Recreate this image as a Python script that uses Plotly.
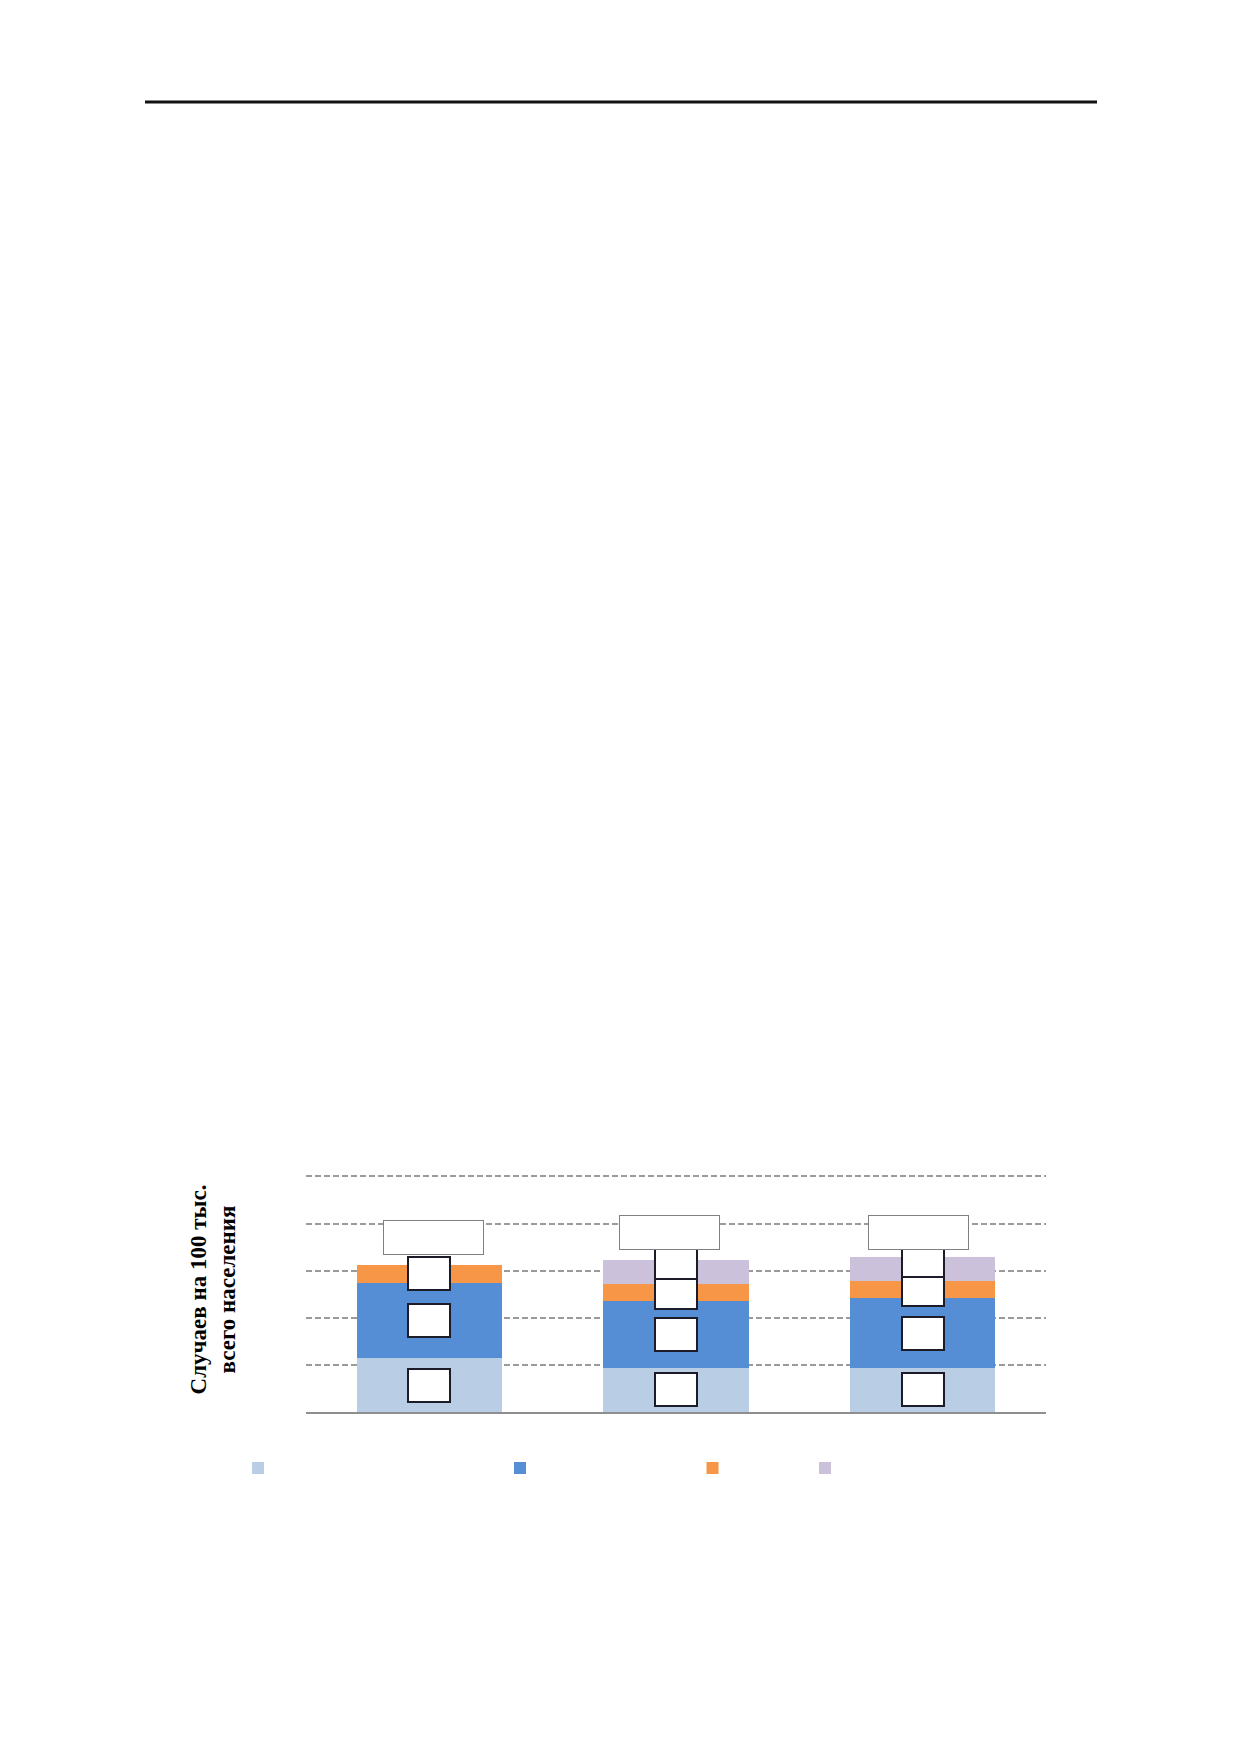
import plotly.graph_objects as go

# ---- data (value labels are blank boxes in the reference) ----
categories = ["Период 1", "Период 2", "Период 3"]
light_blue = [57, 47, 47]
blue = [80, 71, 73.5]
orange = [19, 18, 19]
purple = [None, 25.5, 24.5]
y_ticks = [0, 50, 100, 150, 200, 250]
y_title = "<b>Случаев на 100 тыс.</b><br><b>всего населения</b>"
legend_names = [" ", " ", " ", " "]

# ---- styles ----
colors = ["#B9CDE5", "#558ED5", "#F79646", "#CCC1DA"]
OFF = 8  # default page (body) margin of the html page
W, H = 1240 - OFF, 1754 - OFF
L = 306 - OFF
T = 1167 - OFF
plot_w = 740
plot_h = 245
R = W - L - plot_w
B = H - T - plot_h

fig = go.Figure()
series = [light_blue, blue, orange, purple]
legend_ids = ["legend", "legend2", "legend3", "legend4"]
for vals, col, nm, lg in zip(series, colors, legend_names, legend_ids):
    fig.add_trace(go.Bar(
        x=categories, y=vals, name=nm, marker=dict(color=col, line=dict(width=0)),
        legend=lg, hoverinfo="skip"))

# ---- value-label boxes (blank, as in the reference) ----
annotations = []
for ci, cat in enumerate(categories):
    base = 0.0
    for si, vals in enumerate(series):
        v = vals[ci]
        if v is None:
            continue
        mid = base + v / 2.0
        base += v
        annotations.append(dict(
            x=cat, y=mid, xref="x", yref="y", text=" ", showarrow=False,
            width=38, height=29, borderpad=1, borderwidth=2,
            bordercolor="#1c1c28", bgcolor="#ffffff",
            yshift=9 if si == 3 else 0, font=dict(size=10)))
totals = [sum(v[i] for v in series if v[i] is not None) for i in range(len(categories))]
total_dx = [4, -7, -4]
total_dy = [10, 10, 7]
for ci, cat in enumerate(categories):
    annotations.append(dict(
        x=cat, y=totals[ci], xref="x", yref="y", text=" ", showarrow=False,
        yanchor="bottom", yshift=total_dy[ci], xshift=total_dx[ci],
        width=97, height=31, borderpad=1, borderwidth=1,
        bordercolor="#808080", bgcolor="#ffffff", font=dict(size=10)))

# legends: one per series, positioned like the reference (page px)
legend_px = [257, 519, 711.5, 824]
legend_py = 1468
legends = {}
for lg, px in zip(legend_ids, legend_px):
    legends[lg] = dict(
        orientation="h", x=(px - OFF - 19 - L) / plot_w, xanchor="left",
        y=(T + plot_h - (legend_py - OFF)) / plot_h, yanchor="middle",
        bgcolor="rgba(0,0,0,0)", borderwidth=0, font=dict(size=12),
        itemclick=False, itemdoubleclick=False)

rule_y = (T + plot_h - (102 - OFF)) / plot_h
fig.update_layout(
    width=W, height=H,
    margin=dict(l=L, r=R, t=T, b=B, pad=0),
    paper_bgcolor="#ffffff", plot_bgcolor="#ffffff",
    barmode="stack", bargap=0.412,
    showlegend=True,
    annotations=annotations,
    shapes=[dict(type="line", xref="paper", yref="paper",
                 x0=(145 - OFF - L) / plot_w, x1=(1097 - OFF - L) / plot_w,
                 y0=rule_y, y1=rule_y,
                 line=dict(color="#111111", width=3))],
    **legends,
)
fig.update_xaxes(showline=True, linecolor="#8f8f8f", linewidth=1.5,
                 showticklabels=False, ticks="", showgrid=False, zeroline=False)
fig.update_yaxes(range=[0, 260], tickvals=y_ticks, showticklabels=False, ticks="",
                 showgrid=True, gridcolor="#9b9b9b", gridwidth=1.5, griddash="6px,3px",
                 zeroline=False, showline=False,
                 title=dict(text=y_title, standoff=62,
                            font=dict(family="Liberation Serif", size=23, color="#000000")))

fig.write_html("out.html")
